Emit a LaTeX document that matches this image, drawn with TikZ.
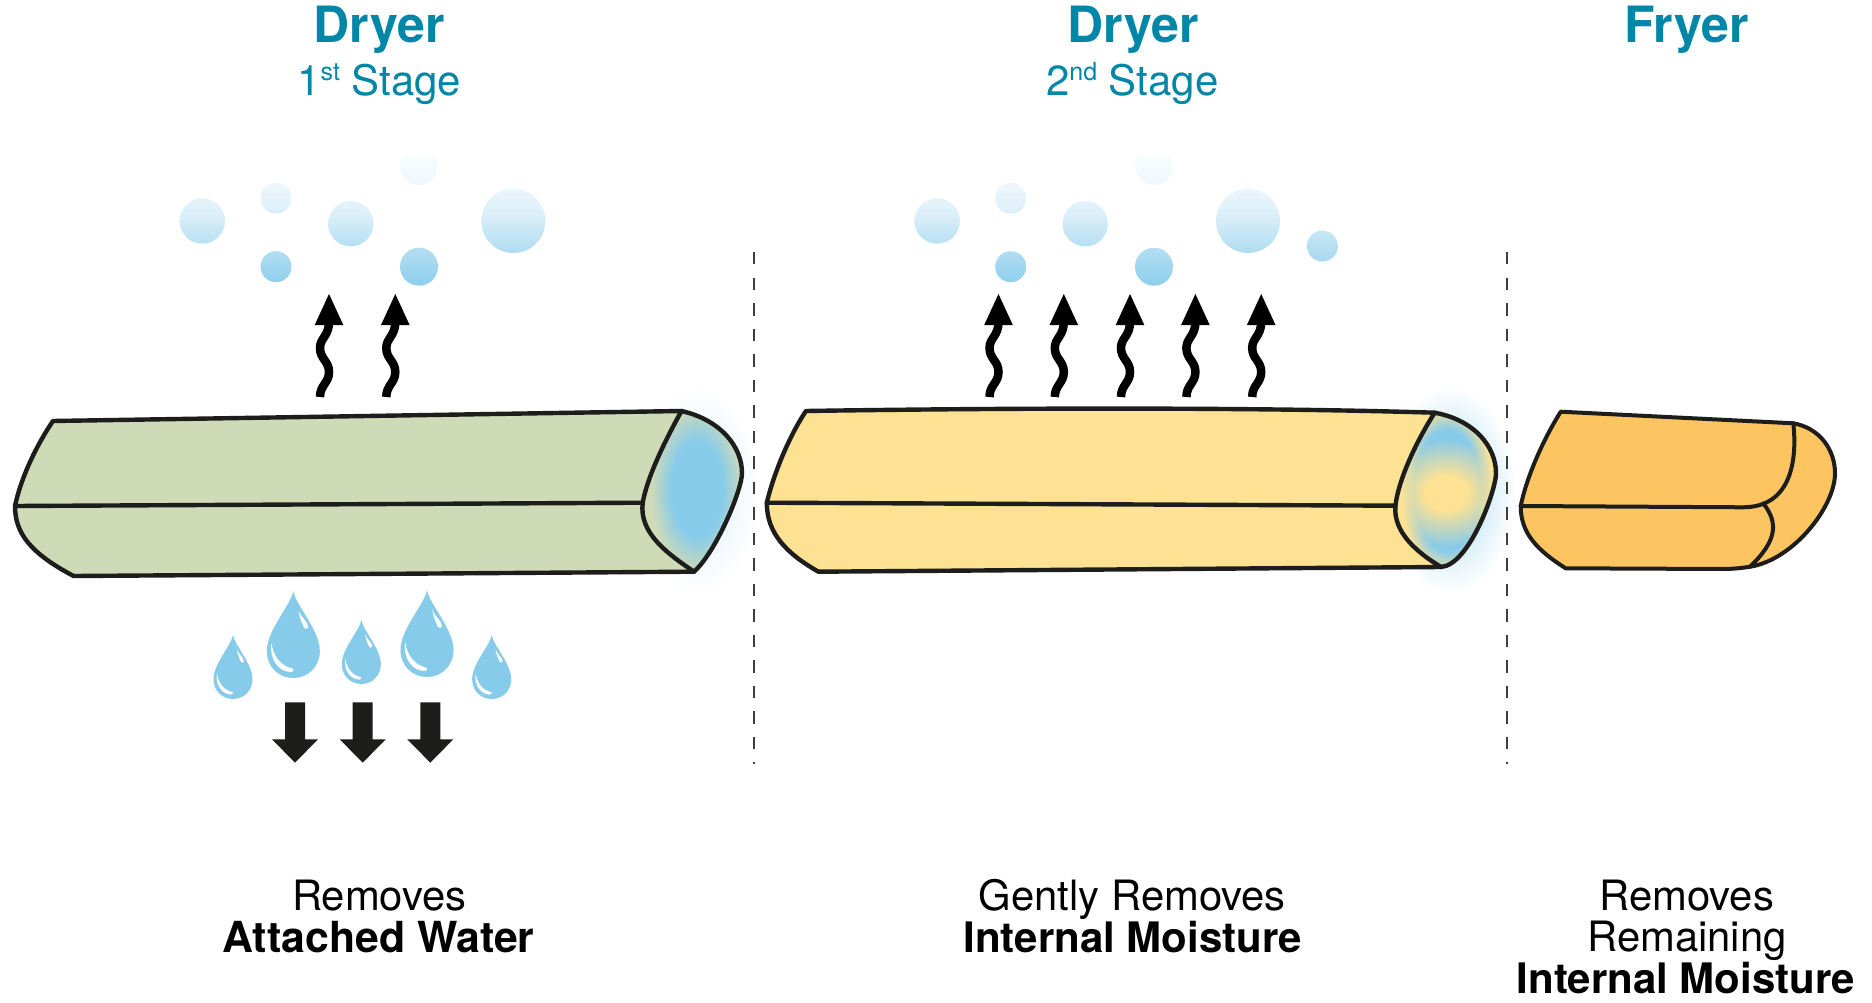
\documentclass[tikz,border=0pt]{standalone}
\usepackage{fontspec}
\setmainfont{TeX Gyre Heros}
\usetikzlibrary{fadings}

\definecolor{inkdark}{HTML}{1D1D1B}
\definecolor{titleteal}{HTML}{0087A8}
\definecolor{waterblue}{HTML}{87CBEB}
\definecolor{barsage}{HTML}{CFDAB7}
\definecolor{barcream}{HTML}{FDE294}
\definecolor{barorange}{HTML}{FCC561}

% Soft wet zones seen on the cut ends of the strips.
% The path edge of a fitted radial shading falls at 25bp.
\pgfdeclareradialshading{wetcore}{\pgfpoint{0bp}{0bp}}{%
  color(0bp)=(waterblue); color(14bp)=(waterblue); color(25bp)=(barsage); color(50bp)=(barsage)}
\pgfdeclareradialshading{wetring}{\pgfpoint{0bp}{0bp}}{%
  color(0bp)=(waterblue); color(18bp)=(waterblue); color(25bp)=(barcream); color(50bp)=(barcream)}
\pgfdeclareradialshading{wethalo}{\pgfpoint{0bp}{0bp}}{%
  color(0bp)=(waterblue!45!white); color(10bp)=(waterblue!45!white); color(25bp)=(white); color(50bp)=(white)}
\pgfdeclareradialshading{softmask}{\pgfpoint{0bp}{0bp}}{%
  color(0bp)=(pgftransparent!0); color(8bp)=(pgftransparent!0); color(25bp)=(pgftransparent!100); color(50bp)=(pgftransparent!100)}
\pgfdeclarefading{softblob}{\pgfuseshading{softmask}}
% Vapour colour by height; the fitted rectangle spans 25bp to 75bp
\pgfdeclareverticalshading{vapourband}{100bp}{%
  color(0bp)=(waterblue); color(26bp)=(waterblue); color(29.3bp)=(waterblue!92!white);
  color(42bp)=(waterblue!59!white); color(52bp)=(waterblue!30!white);
  color(61.7bp)=(waterblue!15!white); color(73.3bp)=(waterblue!3!white); color(100bp)=(white)}

\tikzset{
  outline/.style={draw=inkdark, line width=4.4pt, line join=round, line cap=round},
  thinoutline/.style={draw=inkdark, line width=4pt, line join=round, line cap=round},
  stagedash/.style={draw=inkdark!85, line width=1.8pt, dash pattern=on 12.5pt off 13pt},
  title/.style={anchor=base, inner sep=0pt, text=titleteal, font=\fontsize{50}{50}\selectfont\bfseries},
  subtitle/.style={anchor=base, inner sep=0pt, text=titleteal, font=\fontsize{42}{42}\selectfont},
  caption/.style={anchor=base, inner sep=0pt, text=black, font=\fontsize{41.8}{42}\selectfont},
  captionbold/.style={anchor=base, inner sep=0pt, text=black, font=\fontsize{42}{42}\selectfont\bfseries},
}

\newcommand\stagesup[1]{\raisebox{.36em}{\fontsize{25}{25}\selectfont #1}}

% Wavy steam arrow; the argument is the x position of its tip
\newcommand\steamarrow[1]{%
  \begin{scope}[shift={(#1,0)}]
    \draw[black, line width=8.5pt] (-9,397) .. controls (-9,385) and (0,383) .. (0,372)
      .. controls (0,361) and (-9,359) .. (-9,348) .. controls (-9,338) and (0,336) .. (0,322);
    \fill[black] (0,294) -- (14.3,325) -- (-14.3,325) -- cycle;
  \end{scope}}

% Water drop with its two highlights, 100 units tall at scale 1
\newcommand\waterdrop[3]{%
  \begin{scope}[shift={(#1,#2)}, scale=#3]
    \fill[waterblue] (0,0) .. controls (2,15) and (30.5,45) .. (30.5,69)
      .. controls (30.5,87) and (17,100) .. (0,100)
      .. controls (-17,100) and (-30.5,87) .. (-30.5,69)
      .. controls (-30.5,45) and (-2,15) .. (0,0) -- cycle;
    \fill[white] (-25,60) .. controls (-28,78) and (-17,93) .. (-3,93)
      .. controls (1,93) and (1,89) .. (-1,89)
      .. controls (-13,87) and (-23,76) .. (-25,60) -- cycle;
    \fill[white] (6,22) .. controls (8,30) and (18,36) .. (17,42)
      .. controls (15,45) and (12,43) .. (11,39)
      .. controls (9,34) and (7,30) .. (6,22) -- cycle;
  \end{scope}}

% Solid downward arrow; the argument is the x position of its axis
\newcommand\dripdown[1]{%
  \fill[inkdark] (#1-10,702.3) -- (#1+10,702.3) -- (#1+10,739.3) -- (#1+23,739.3)
    -- (#1,762.7) -- (#1-23,739.3) -- (#1-10,739.3) -- cycle;}

% Rising vapour: one vertical colour ramp seen through all the bubbles
\newcommand\vapourramp{%
  \shade[shading=vapourband] (0,145) rectangle (1872,295);}

\begin{document}
\begin{tikzpicture}[x=1pt, y=-1pt]
\useasboundingbox (0,0) rectangle (1872,1003);
\fill[white] (0,0) rectangle (1872,1003);

% Faint glow around the wet cut ends
\shade[shading=wethalo, opacity=.4] (698,490) ellipse [x radius=62, y radius=102];
\shade[shading=wethalo] (1450,490) ellipse [x radius=66, y radius=104];

% Stage separators
\coordinate (sepAtop) at (753.6,252);
\coordinate (sepAbot) at (753.6,764);
\coordinate (sepBtop) at (1506.6,252);
\coordinate (sepBbot) at (1506.6,764);
\draw[stagedash] (sepAtop) -- (sepAbot);
\draw[stagedash] (sepBtop) -- (sepBbot);

% First dryer stage: strip with attached water
\coordinate (aTL) at (53,421);
\coordinate (aTR) at (681.5,411);
\coordinate (aE)  at (742,473);
\coordinate (aC)  at (694,571.7);
\coordinate (aBL) at (73.6,576);
\coordinate (aW)  at (15,506);
\coordinate (aM)  at (642.7,502.7);
\fill[barsage] (aTL) -- (aTR) .. controls (721,420) and (742,447) .. (aE)
  .. controls (742,490) and (716,552) .. (aC) -- (aBL)
  .. controls (30,553) and (15,533) .. (aW)
  .. controls (22,473) and (40,440) .. (aTL) -- cycle;
\begin{scope}
  \clip (aTR) .. controls (721,420) and (742,447) .. (aE)
    .. controls (742,490) and (716,552) .. (aC)
    .. controls (666.6,553) and (639,533) .. (aM)
    .. controls (646.7,480) and (661.6,446.7) .. (aTR) -- cycle;
  \shade[shading=wetcore] (697,489) ellipse [x radius=46, y radius=84];
\end{scope}
\draw[outline] (aTL) -- (aTR) .. controls (721,420) and (742,447) .. (aE)
  .. controls (742,490) and (716,552) .. (aC) -- (aBL)
  .. controls (30,553) and (15,533) .. (aW)
  .. controls (22,473) and (40,440) .. (aTL) -- cycle;
\draw[outline] (aW) -- (aM);
\draw[outline] (aTR) .. controls (661.6,446.7) and (646.7,480) .. (aM)
  .. controls (639,533) and (666.6,553) .. (aC);

% Second dryer stage: strip with internal moisture
\coordinate (bTL) at (806,411);
\coordinate (bTR) at (1434.7,412.7);
\coordinate (bE)  at (1496,473.3);
\coordinate (bC)  at (1441,567);
\coordinate (bBL) at (818.4,571.7);
\coordinate (bW)  at (766.8,502.7);
\coordinate (bM)  at (1395.4,505.7);
\fill[barcream] (bTL) .. controls (1000,408) and (1250,407) .. (bTR)
  .. controls (1474.5,420) and (1496,446.7) .. (bE)
  .. controls (1496,490) and (1469.4,565) .. (bC) -- (bBL)
  .. controls (785.7,553) and (766.8,533) .. (bW)
  .. controls (775.5,466.7) and (793,430) .. (bTL) -- cycle;
\begin{scope}
  \clip (bTR) .. controls (1474.5,420) and (1496,446.7) .. (bE)
    .. controls (1496,490) and (1469.4,565) .. (bC)
    .. controls (1418,553) and (1393,533) .. (bM)
    .. controls (1398,483) and (1413,446.7) .. (bTR) -- cycle;
  \shade[shading=wetring] (1447,490) ellipse [x radius=46, y radius=84];
  \fill[barcream, path fading=softblob] (1446,493) ellipse [x radius=66, y radius=54];
\end{scope}
\draw[outline] (bTL) .. controls (1000,408) and (1250,407) .. (bTR)
  .. controls (1474.5,420) and (1496,446.7) .. (bE)
  .. controls (1496,490) and (1469.4,565) .. (bC) -- (bBL)
  .. controls (785.7,553) and (766.8,533) .. (bW)
  .. controls (775.5,466.7) and (793,430) .. (bTL) -- cycle;
\draw[outline] (bW) -- (bM);
\draw[outline] (bTR) .. controls (1413,446.7) and (1398,483) .. (bM)
  .. controls (1393,533) and (1418,553) .. (bC);

% Fryer: shrunken strip
\coordinate (cTL) at (1560.7,411.7);
\coordinate (cTR) at (1793.3,423.3);
\coordinate (cE)  at (1835,473.3);
\coordinate (cF)  at (1750,566.7);
\coordinate (cB)  at (1723.3,569);
\coordinate (cBL) at (1565.7,568.3);
\coordinate (cW)  at (1520.7,506);
\coordinate (cM)  at (1743.3,507.3);
\coordinate (cK)  at (1763.3,503.5);
\draw[thinoutline, fill=barorange] (cTL) -- (cTR)
  .. controls (1820,428) and (1835,450) .. (cE)
  .. controls (1835,507) and (1793,560) .. (cF)
  .. controls (1742,568) and (1733,569) .. (cB) -- (cBL)
  .. controls (1536.7,550) and (1520.7,533) .. (cW)
  .. controls (1526.7,476.7) and (1543,440) .. (cTL) -- cycle;
\draw[thinoutline] (cW) -- (cM) .. controls (1793,507) and (1797,457) .. (cTR);
\draw[thinoutline] (cK) .. controls (1778,522) and (1778,540) .. (cF);

% Vapour above the first stage
\begin{scope}
  \clip (0,157) rectangle (1872,300);
  \clip (202.3,221) circle [radius=22.7] (276,198.3) circle [radius=15.5]
    (350.7,223.7) circle [radius=22.7] (418.7,166) circle [radius=18.8]
    (276,266.7) circle [radius=15.5] (419,266.7) circle [radius=19]
    (513.3,221) circle [radius=32];
  \vapourramp
\end{scope}

% Vapour above the second stage
\begin{scope}
  \clip (0,157) rectangle (1872,300);
  \clip (937.2,221) circle [radius=22.7] (1010.7,198.3) circle [radius=15.5]
    (1085.2,223.7) circle [radius=22.7] (1154,166) circle [radius=18.8]
    (1010.7,266.7) circle [radius=15.5] (1154,266.7) circle [radius=19]
    (1248,221) circle [radius=32] (1322.4,246) circle [radius=15.5];
  \vapourramp
\end{scope}

% Steam arrows
\foreach \tipx in {329,395.3,998.5,1063.8,1130,1195.4,1261.2} {\steamarrow{\tipx}}

% Drops and drip arrows below the first stage
\waterdrop{233}{635}{.64}
\waterdrop{293.3}{591}{.87}
\waterdrop{361.3}{620}{.64}
\waterdrop{427}{590}{.87}
\waterdrop{491.7}{635}{.64}
\dripdown{295}
\dripdown{362.7}
\dripdown{430.3}

% Headings
\node[title] (headA) at (379,43) {Dryer};
\node[subtitle] (subA) at (379.3,96) {1\stagesup{st} Stage};
\node[title] (headB) at (1133,43) {Dryer};
\node[subtitle] (subB) at (1132.3,96) {2\stagesup{nd} Stage};
\node[title] (headC) at (1686.5,43) {Fryer};

% Captions
\node[caption] (capA1) at (379.3,910.5) {Removes};
\node[captionbold, font=\fontsize{42.8}{43}\selectfont\bfseries] (capA2) at (378.7,952) {Attached Water};
\node[caption] (capB1) at (1132.3,910.5) {Gently Removes};
\node[captionbold] (capB2) at (1132.8,952) {Internal Moisture};
\node[caption] (capC1) at (1686.7,910.5) {Removes};
\node[caption] (capC2) at (1687,951.5) {Remaining};
\node[captionbold] (capC3) at (1686,993) {Internal Moisture};
\end{tikzpicture}
\end{document}
